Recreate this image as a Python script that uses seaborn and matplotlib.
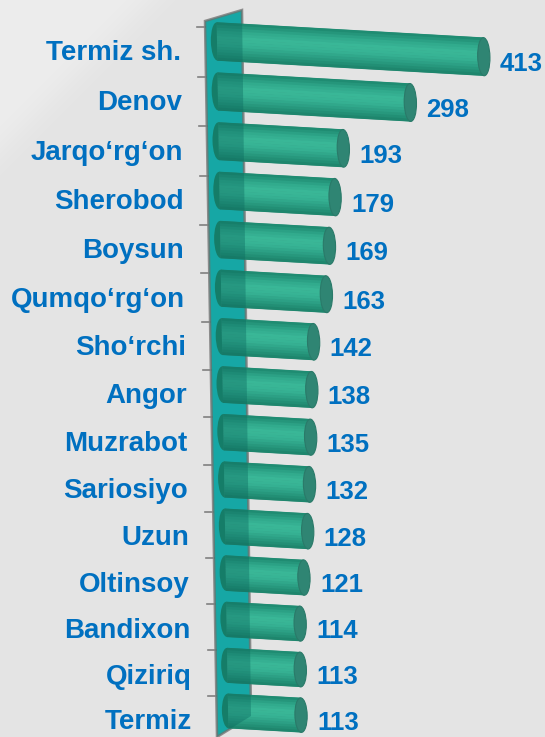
import numpy as np
import matplotlib
matplotlib.use("Agg")
import matplotlib.pyplot as plt
import seaborn as sns
from matplotlib.patches import Ellipse, Polygon
from matplotlib.transforms import Affine2D, offset_copy
from matplotlib.colors import LinearSegmentedColormap

districts = [
    "Termiz sh.", "Denov", "Jarqo‘rg‘on", "Sherobod", "Boysun",
    "Qumqo‘rg‘on", "Sho‘rchi", "Angor", "Muzrabot", "Sariosiyo",
    "Uzun", "Oltinsoy", "Bandixon", "Qiziriq", "Termiz",
]
counts = [413, 298, 193, 179, 169, 163, 142, 138, 135, 132, 128, 121, 114, 113, 113]

W, H = 545, 737
BG = "#e4e4e4"
BLUE = "#0070c0"
BAR_H = 0.76
CAP_W = 19.0      # cylinder end caps, data units
SLOPE = 0.057     # bars drop towards the right (perspective)
SHIFT = 0.0165    # lower rows sit a bit further right


def fwd(y):
    y = np.asarray(y, dtype=float)
    return 50.2 * y - 0.17 * y ** 2


def inv(u):
    u = np.asarray(u, dtype=float)
    return (50.2 - np.sqrt(np.maximum(50.2 ** 2 - 0.68 * u, 0))) / 0.34


def start():
    fig = plt.figure(figsize=(W / 100, H / 100), dpi=100, facecolor=BG)

    # soft lighter corner in the top left of the background
    px, py = np.meshgrid(np.arange(W), np.arange(H))
    light = 1 / (1 + np.exp(((px + py) - 150) / 12.0))
    bg = (228 + 9 * light) / 255
    fig.figimage(np.dstack([bg, bg, bg]), xo=0, yo=0, origin="upper", zorder=-10)

    ax = fig.add_axes([0, 0, 1, 1])
    ax.set_facecolor("none")

    sns.barplot(x=counts, y=districts, orient="h", width=BAR_H,
                color="#2ea388", linewidth=0, zorder=3, ax=ax)
    bars = list(ax.patches)

    # cylinder shading: thin strips, dark -> light -> dark
    cyl = LinearSegmentedColormap.from_list(
        "cyl", ["#1f8c72", "#2fa88b", "#3ab898", "#36b293", "#2a9d82", "#1e866d"])
    n = 14
    rows = np.arange(len(counts))
    for k in range(n):
        cont = ax.barh(rows - BAR_H / 2 + (k + 0.5) * BAR_H / n, counts,
                       height=BAR_H / n * 1.15, color=cyl(k / (n - 1)),
                       linewidth=0, zorder=3.1)
        bars += list(cont.patches)

    ax.set_yscale("function", functions=(fwd, inv))
    xlim = (-217 / 0.646, (W - 217) / 0.646)
    ylim = (float(inv(H - 41.5)), float(inv(-41.5)))
    ax.set_xlim(*xlim)
    ax.set_ylim(*ylim)
    ax.axis("off")

    X0, Y0 = ax.transData.transform((0, 0))
    shear = Affine2D(np.array([[1, -SHIFT, SHIFT * Y0],
                               [-SLOPE, 1, SLOPE * X0],
                               [0, 0, 1]]))
    trans = ax.transData + shear
    pix = Affine2D().scale(1, -1).translate(0, H)

    for p in bars:
        p.set_transform(trans)

    for i, v in enumerate(counts):
        ax.add_patch(Ellipse((0, i), CAP_W, BAR_H, transform=trans,
                             fc="#1d8a6e", ec="none", zorder=2.9))
        ax.add_patch(Ellipse((v, i), CAP_W, BAR_H, transform=trans,
                             fc="#2f8573", ec="#2a7a69", lw=0.8, zorder=4))
        ax.text(v + 24.8, i, str(v), transform=offset_copy(trans, y=-6.5, units="dots"),
                ha="left", va="center", fontsize=18.5, fontweight="bold",
                color=BLUE, family="Liberation Sans")
        ax.text(-55.7, i, districts[i], transform=offset_copy(trans, y=-13.5, units="dots"),
                ha="right", va="center", fontsize=20, fontweight="bold",
                color=BLUE, family="Liberation Sans")

    # back wall the bars pass through (second copy tints the bars behind it)
    wall = [(205, 21), (242, 10), (251, 716), (217, 737)]
    ax.add_patch(Polygon(wall, closed=True, transform=pix, fc="#1ed1d3",
                         ec="#8c8c8c", lw=1.8, zorder=2))
    ax.add_patch(Polygon(wall, closed=True, transform=pix, fc="#0a6a60",
                         ec="none", alpha=0.4, zorder=5))

    # small ticks on the wall's left edge
    (xa, ya), (xb, yb) = wall[0], wall[3]
    for i in range(len(counts)):
        ty = H - ax.transData.transform((0, i))[1] - 15
        tx = xa + (xb - xa) * (ty - ya) / (yb - ya)
        ax.plot([tx - 8, tx], [ty, ty], color="#808080", lw=1.2,
                transform=pix, zorder=2)

    ax.set_xlim(*xlim)
    ax.set_ylim(*ylim)
    fig.savefig("out.png", dpi=100)
    plt.close(fig)


if __name__ == "__main__":
    start()
